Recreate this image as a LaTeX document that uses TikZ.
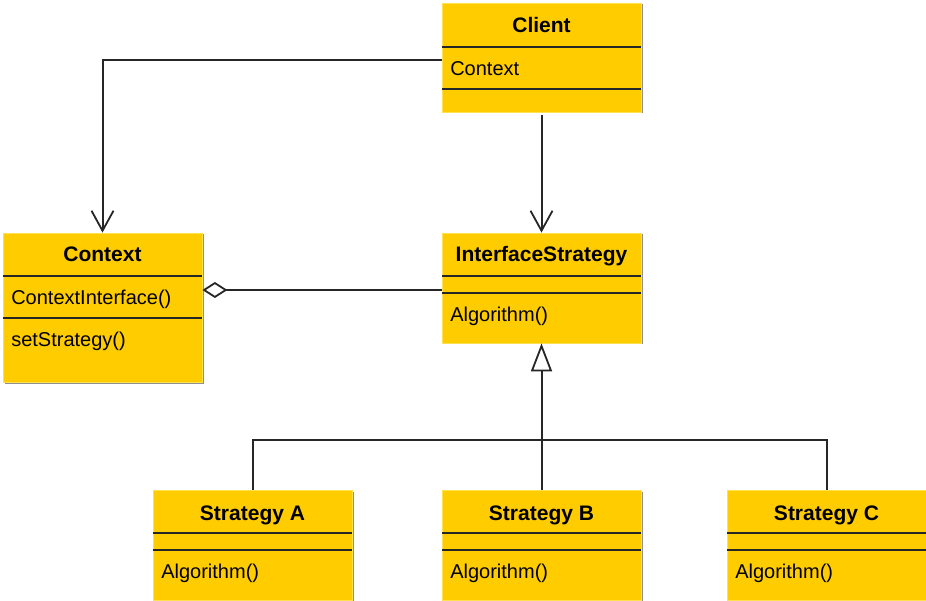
\documentclass[tikz,border=0pt]{standalone}
\usepackage{fontspec}
\setmainfont{Liberation Sans}
\usetikzlibrary{arrows.meta,positioning,shadows}
\definecolor{umlyellow}{HTML}{FFCC00}
\definecolor{umledge}{HTML}{FFE04D}
\definecolor{umlline}{HTML}{262626}

\begin{document}
\begin{tikzpicture}[x=1pt, y=-1pt]
	\tikzstyle{classbox} = [rectangle, draw=umledge, fill=umlyellow, line width=0.8pt, minimum width=199pt, inner sep=0pt, drop shadow={shadow xshift=1.5pt, shadow yshift=-1.5pt, fill=black!55, opacity=0.8}]
	\tikzstyle{title} = [font=\fontsize{21}{24}\selectfont\bfseries, inner sep=0pt, anchor=base]
	\tikzstyle{member} = [font=\fontsize{20}{24}\selectfont, inner sep=0pt, anchor=base west]
	\tikzstyle{sep} = [draw=umlline, line width=2pt]
	\tikzstyle{line} = [draw=umlline, line width=2pt]
	\tikzstyle{assoc} = [line, -{Straight Barb[length=20pt, width=22pt, line width=1.8pt]}]
	\tikzstyle{inherit} = [line, -{Triangle[open, length=28pt, width=21pt, line width=1.8pt, fill=white]}]
	\tikzstyle{aggr} = [line, {Diamond[open, length=25pt, width=16pt, line width=1.8pt, fill=white]}-]

	\useasboundingbox (0,0) rectangle (926,601);

	% class boxes
	\node[classbox, minimum height=109pt] (client) at (541.5, 57.5) {};
	\node[classbox, minimum height=149pt] (context) at (102.5, 307.5) {};
	\node[classbox, minimum height=110pt] (istrat) at (541.5, 288) {};
	\node[classbox, minimum height=110pt] (stratA) at (252.5, 545) {};
	\node[classbox, minimum height=110pt] (stratB) at (541.5, 545) {};
	\node[classbox, minimum height=110pt] (stratC) at (826.5, 545) {};

	% client
	\node[title] (clientT) at ([yshift=-30pt]client.north) {Client};
	\node[member] (clientA) at ([shift={(8.5pt,-73pt)}]client.north west) {Context};
	\draw[sep] ([yshift=-44pt]client.north west) -- ([yshift=-44pt]client.north east);
	\draw[sep] ([yshift=-86pt]client.north west) -- ([yshift=-86pt]client.north east);

	% context
	\node[title] (contextT) at ([yshift=-29pt]context.north) {Context};
	\node[member] (contextA) at ([shift={(8.5pt,-72pt)}]context.north west) {ContextInterface()};
	\node[member] (contextM) at ([shift={(8.5pt,-114pt)}]context.north west) {setStrategy()};
	\draw[sep] ([yshift=-43pt]context.north west) -- ([yshift=-43pt]context.north east);
	\draw[sep] ([yshift=-85pt]context.north west) -- ([yshift=-85pt]context.north east);

	% interface
	\node[title] (istratT) at ([yshift=-29pt]istrat.north) {InterfaceStrategy};
	\node[member] (istratM) at ([shift={(8.5pt,-89pt)}]istrat.north west) {Algorithm()};
	\draw[sep] ([yshift=-43pt]istrat.north west) -- ([yshift=-43pt]istrat.north east);
	\draw[sep] ([yshift=-60pt]istrat.north west) -- ([yshift=-60pt]istrat.north east);

	% concrete strategies
	\foreach \s/\lbl in {stratA/A, stratB/B, stratC/C} {
		\node[title] (\s T) at ([yshift=-31pt]\s.north) {Strategy \lbl};
		\node[member] (\s M) at ([shift={(8.5pt,-89pt)}]\s.north west) {Algorithm()};
		\draw[sep] ([yshift=-43pt]\s.north west) -- ([yshift=-43pt]\s.north east);
		\draw[sep] ([yshift=-60pt]\s.north west) -- ([yshift=-60pt]\s.north east);
	}

	% connectors
	\coordinate (bus) at (541.5, 440);

	\draw[assoc] ([yshift=-2.5pt]client.west) -| (context.north);
	\draw[assoc, shorten <=3pt] (client.south) -- (istrat.north);
	\draw[aggr] ([yshift=-2pt]context.east |- istrat.west) -- ([yshift=-2pt]istrat.west);
	\draw[inherit] (stratB.north) -- (istrat.south);
	\draw[line] (stratA.north) |- (bus) -| (stratC.north);

\end{tikzpicture}
\end{document}
